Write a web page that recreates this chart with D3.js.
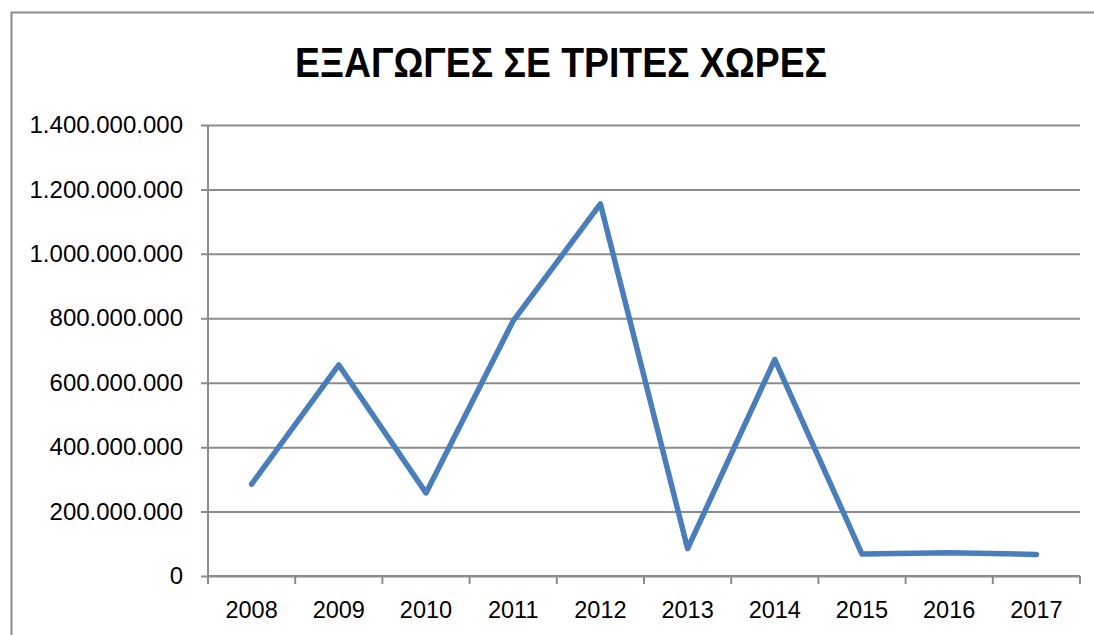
<!DOCTYPE html>
<html>
<head>
    <meta charset="utf-8">
    <script src="https://cdn.jsdelivr.net/npm/d3@7/dist/d3.min.js"></script>
    <style>
        body { margin: 0; background: #fff; }
        svg { display: block; }
    </style>
</head>
<body>
    <svg width="1094" height="635"></svg>

    <script>
        // data
        const years = ["2008", "2009", "2010", "2011", "2012", "2013", "2014", "2015", "2016", "2017"];
        const exportValues = [285000000, 655000000, 258000000, 792000000, 1155000000, 85000000, 672000000, 68000000, 72000000, 67000000];
        const yTicks = [0, 200000000, 400000000, 600000000, 800000000, 1000000000, 1200000000, 1400000000];
        const title = "ΕΞΑΓΩΓΕΣ ΣΕ ΤΡΙΤΕΣ ΧΩΡΕΣ";

        const svg = d3.select("svg");
        const plotLeft = 208, plotRight = 1080, plotTop = 125, plotBottom = 576;
        const gridColor = "#8c8c8c";
        const font = "'Liberation Sans', Arial, sans-serif";

        // chart frame
        svg.append("rect")
            .attr("x", 11.5).attr("y", 12.5)
            .attr("width", 1200).attr("height", 700)
            .attr("fill", "none")
            .attr("stroke", gridColor)
            .attr("stroke-width", 2);

        svg.append("text")
            .attr("x", 561).attr("y", 77)
            .attr("text-anchor", "middle")
            .attr("font-family", font)
            .attr("font-weight", "bold")
            .attr("font-size", 42)
            .attr("textLength", 532)
            .attr("lengthAdjust", "spacingAndGlyphs")
            .attr("fill", "#000")
            .text(title);

        const x = d3.scaleBand().domain(years).range([plotLeft, plotRight]);
        const y = d3.scaleLinear().domain([0, 1400000000]).range([plotBottom, plotTop]);

        const fmt = function(v) {
            return d3.format(",")(v).replace(/,/g, ".");
        };

        // gridlines + y ticks
        const yAxis = svg.append("g")
            .attr("transform", `translate(${plotLeft},0)`)
            .call(d3.axisLeft(y).tickValues(yTicks).tickSize(-(plotRight - plotLeft)).tickSizeOuter(0).tickFormat(fmt));
        yAxis.select(".domain").remove();
        yAxis.selectAll(".tick line")
            .attr("x1", -7)
            .attr("stroke", gridColor)
            .attr("stroke-width", 2);
        yAxis.selectAll(".tick text")
            .attr("font-family", font)
            .attr("font-size", 24)
            .attr("fill", "#000")
            .attr("x", -25);

        // y axis line
        svg.append("line")
            .attr("x1", plotLeft).attr("x2", plotLeft)
            .attr("y1", plotTop).attr("y2", plotBottom)
            .attr("stroke", gridColor)
            .attr("stroke-width", 2);

        // x axis with ticks between categories
        const xg = svg.append("g");
        xg.append("line")
            .attr("x1", plotLeft).attr("x2", plotRight)
            .attr("y1", plotBottom).attr("y2", plotBottom)
            .attr("stroke", gridColor)
            .attr("stroke-width", 2);
        xg.selectAll(".xt")
            .data(years.concat(["end"]))
            .enter()
            .append("line")
                .attr("x1", function(d, i) { return plotLeft + i * x.step(); })
                .attr("x2", function(d, i) { return plotLeft + i * x.step(); })
                .attr("y1", plotBottom)
                .attr("y2", plotBottom + 8)
                .attr("stroke", gridColor)
                .attr("stroke-width", 2);
        xg.selectAll(".xl")
            .data(years)
            .enter()
            .append("text")
                .attr("x", function(d) { return x(d) + x.bandwidth() / 2; })
                .attr("y", 618)
                .attr("text-anchor", "middle")
                .attr("font-family", font)
                .attr("font-size", 23.5)
                .attr("fill", "#000")
                .text(function(d) { return d; });

        const line = d3.line()
            .x(function(d, i) { return x(years[i]) + x.bandwidth() / 2; })
            .y(function(d) { return y(d); });

        svg.append("path")
            .datum(exportValues)
            .attr("d", line)
            .attr("fill", "none")
            .attr("stroke", "#4a7ebb")
            .attr("stroke-width", 5.5)
            .attr("stroke-linejoin", "round")
            .attr("stroke-linecap", "round");
    </script>
</body>
</html>
